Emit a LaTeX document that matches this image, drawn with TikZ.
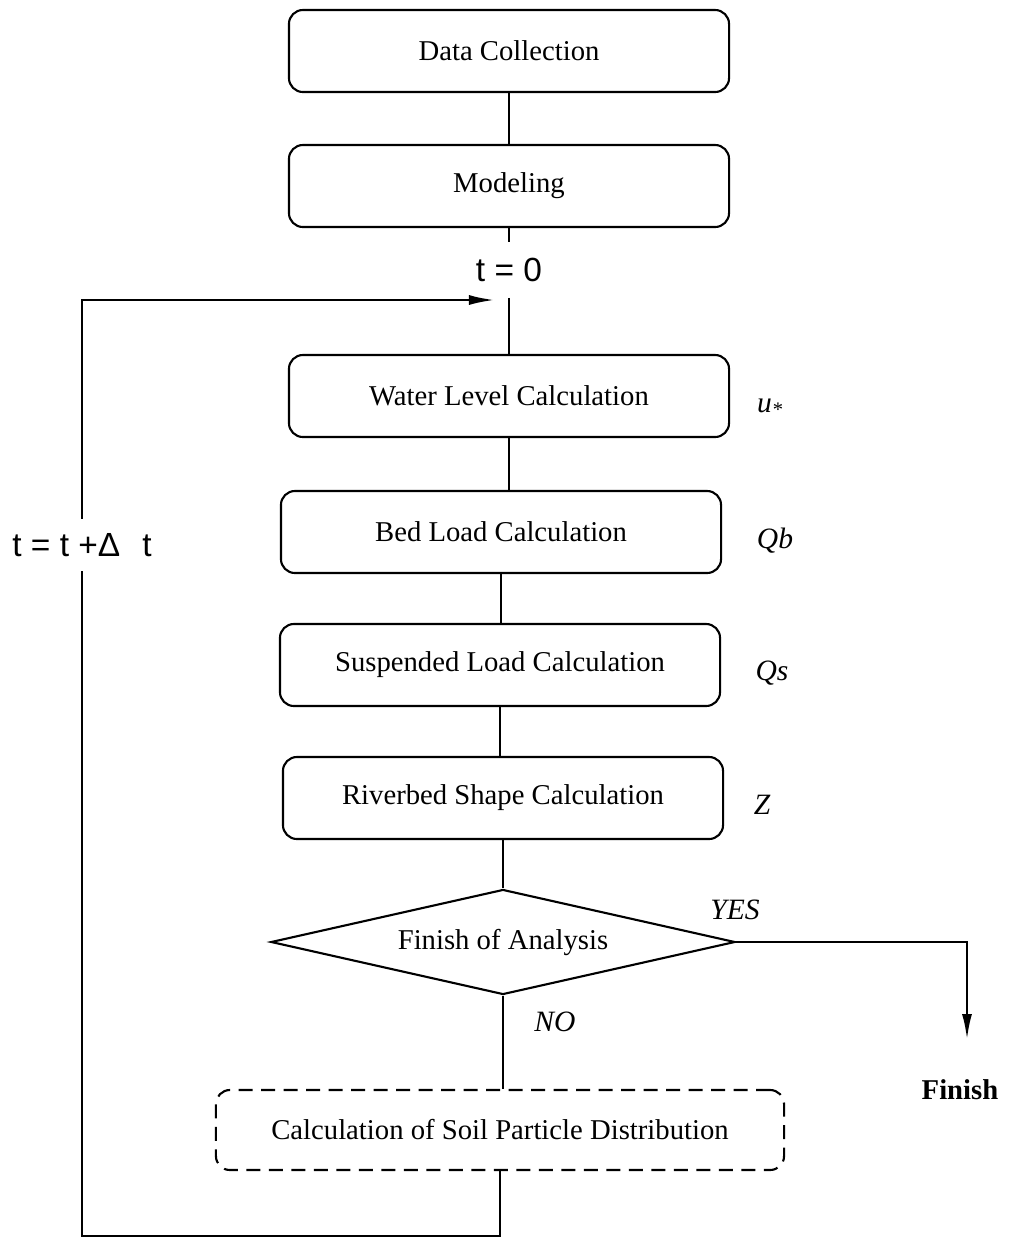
\documentclass[tikz,border=0pt]{standalone}
\usepackage{fontspec}
\setmainfont{Liberation Serif}
\newfontfamily\arialfont{Liberation Sans}
\usetikzlibrary{shapes.geometric,arrows.meta}

\begin{document}
\begin{tikzpicture}[x=0.025cm,y=-0.025cm,
		stepbox/.style={draw,line width=1.5pt,rounded corners=0.35cm,minimum width=11cm,minimum height=2.05cm,font=\fontsize{20.4}{24}\selectfont},
		decision/.style={draw,diamond,line width=1.5pt,aspect=4.4,inner sep=0pt,minimum width=11.6cm,minimum height=2.625cm,font=\fontsize{20.4}{24}\selectfont},
		tlabel/.style={fill=white,inner sep=0pt,font=\arialfont\fontsize{23.8}{28}\selectfont},
		varlabel/.style={font=\itshape\fontsize{21}{25}\selectfont},
		link/.style={line width=1.9pt},
		tip/.style={-{Latex[length=0.65cm,width=0.25cm]}}]
	\useasboundingbox (0,0) rectangle (1009,1238);
	\node [stepbox] (data) at (509,51) {Data Collection};
	\node [stepbox] (model) at (509,186) {Modeling};
	\node [tlabel,minimum height=1.375cm] (tzero) at (509,270) {t = 0};
	\node [stepbox] (water) at (509,396) {Water Level Calculation};
	\node [stepbox] (bed) at (501,532) {Bed Load Calculation};
	\node [stepbox] (susp) at (500,665) {Suspended Load Calculation};
	\node [stepbox] (shape) at (503,798) {Riverbed Shape Calculation};
	\node [decision] (finq) at (503,942) {Finish of Analysis};
	\node [stepbox,dash pattern=on 10pt off 6pt,minimum width=14.2cm,minimum height=2cm] (soil) at (500,1130) {Calculation of Soil Particle Distribution};
	\node [tlabel,minimum height=1.3cm] (tstep) at (82,545) {t = t +Δ\hspace{0.55cm}t};
	\node [varlabel] (ustar) at (770,408) {u\textsubscript{*}};
	\node [varlabel] (qb) at (775,541) {Qb};
	\node [varlabel] (qs) at (772,673) {Qs};
	\node [varlabel] (zed) at (762,805) {Z};
	\node [varlabel] (yes) at (735,910) {YES};
	\node [varlabel] (no) at (555,1022) {NO};
	\node [font=\bfseries\fontsize{20.4}{24}\selectfont] (finish) at (960,1090) {Finish};
	\coordinate (finend) at (967,1040);
	\coordinate (loopin) at (495,300);

	\draw [link] (data) -- (model);
	\draw [link] (model) -- (tzero) -- (water);
	\draw [link] (water.south) -- (water.south |- bed.north);
	\draw [link] (bed.south) -- (bed.south |- susp.north);
	\draw [link] (susp.south) -- (susp.south |- shape.north);
	\draw [link] (shape.south) -- (shape.south |- finq.north);
	\draw [link] (finq.south) -- (finq.south |- soil.north);
	\draw [link,tip] (finq.east) -| (finend);
	\draw [link] (soil.south) -- ++(0,65) -| (tstep.south);
	\draw [link,tip] (tstep.north) |- (loopin);
\end{tikzpicture}
\end{document}
